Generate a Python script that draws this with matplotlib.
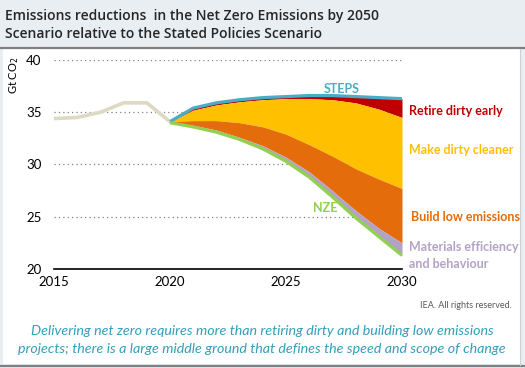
import matplotlib
matplotlib.use("Agg")
from matplotlib import pyplot as plt
from matplotlib.patches import Rectangle
from matplotlib.lines import Line2D

# --- data (Gt CO2) ---
hist_years = [2015, 2016, 2017, 2018, 2019, 2020]
hist_vals = [34.4, 34.5, 35.0, 35.9, 35.9, 34.1]

years = list(range(2020, 2031))
steps = [34.1, 35.4, 35.9, 36.2, 36.4, 36.5, 36.6, 36.6, 36.5, 36.4, 36.3]
after_retire = [34.1, 35.2, 35.7, 36.0, 36.2, 36.3, 36.3, 36.2, 35.9, 35.3, 34.5]
after_cleaner = [34.1, 34.2, 34.2, 34.0, 33.6, 32.9, 31.9, 30.8, 29.6, 28.6, 27.7]
after_build = [34.0, 33.75, 33.3, 32.6, 31.8, 30.7, 29.3, 27.5, 25.6, 23.9, 22.5]
nze = [34.0, 33.6, 33.1, 32.4, 31.5, 30.3, 28.8, 26.9, 24.9, 23.1, 21.3]

x_ticks = [2015, 2020, 2025, 2030]
y_ticks = [20, 25, 30, 35, 40]

title = ("Emissions reductions  in the Net Zero Emissions by 2050\n"
         "Scenario relative to the Stated Policies Scenario")
caption = ["Delivering net zero requires more than retiring dirty and building low emissions",
           "projects; there is a large middle ground that defines the speed and scope of change"]

# colours
BG = "#E9EEF2"
C_STEPS = "#4BACC6"
C_NZE = "#92D050"
C_RED = "#C00000"
C_YEL = "#FFC000"
C_ORA = "#E46C0A"
C_PUR = "#B3A2C7"
C_HIST = "#DDD9C3"
C_CAP = "#31A0B8"

W, H = 525, 368
plt.rcParams["font.family"] = ["Lato", "DejaVu Sans"]


def fx(x):
    return x / W


def fy(y):
    return 1 - y / H


fig = plt.figure(figsize=(W / 100, H / 100), dpi=100, facecolor=BG)

# white panel and grey rules
fig.add_artist(Rectangle((fx(3), fy(364)), fx(517), 315 / H, transform=fig.transFigure,
                         facecolor="white", edgecolor="none", zorder=0))
fig.add_artist(Line2D([0, 1], [fy(48), fy(48)], color="#808080", lw=1.6, transform=fig.transFigure))
fig.add_artist(Line2D([0, 1], [fy(365.5), fy(365.5)], color="#808080", lw=1.6, transform=fig.transFigure))
fig.add_artist(Line2D([fx(520), fx(520)], [fy(49), fy(365)], color="#D0D0D0", lw=0.8,
                      transform=fig.transFigure))

fig.text(fx(5), fy(25), title, ha="left", va="center", fontsize=10, fontweight="semibold",
         family=["Open Sans", "DejaVu Sans"], color="#262626", linespacing=1.45)

ax = fig.add_axes([fx(54), fy(269), (402 - 54) / W, (269 - 60) / H])
ax.set_facecolor("white")

ax.fill_between(years, after_retire, steps, color=C_RED, lw=0)
ax.fill_between(years, after_cleaner, after_retire, color=C_YEL, lw=0)
ax.fill_between(years, after_build, after_cleaner, color=C_ORA, lw=0)
ax.fill_between(years, nze, after_build, color=C_PUR, lw=0)
ax.plot(years, steps, color=C_STEPS, lw=2.3, solid_capstyle="butt", zorder=4)
ax.plot(years, nze, color=C_NZE, lw=2.3, solid_capstyle="butt", zorder=4)
ax.plot(hist_years, hist_vals, color=C_HIST, lw=2.6, zorder=3)

ax.set_xlim(2015, 2030)
ax.set_ylim(20, 40)
ax.set_xticks(x_ticks)
ax.set_yticks(y_ticks)
ax.tick_params(length=0, labelsize=9.5, colors="#000000", pad=5)
ax.tick_params(axis="y", pad=9)
for s in ["top", "right", "left"]:
    ax.spines[s].set_visible(False)
ax.spines["bottom"].set_linewidth(1.2)
ax.spines["bottom"].set_color("black")
for yv in y_ticks[1:]:
    ax.axhline(yv, color="#808080", lw=0.9, ls=(0, (1, 2.5)), zorder=0)

fig.text(fx(14), fy(75), "Gt CO$_2$", rotation=90, ha="center", va="center", fontsize=8)

ax.text(2027.4, 37.2, "STEPS", color=C_STEPS, fontsize=9, fontweight="bold", ha="center", va="center")
ax.text(2026.7, 25.8, "NZE", color=C_NZE, fontsize=9, fontweight="bold", ha="center", va="center")

fig.text(fx(409), fy(111), "Retire dirty early", color=C_RED, fontsize=9, fontweight="bold", va="center")
fig.text(fx(409), fy(150), "Make dirty cleaner", color=C_YEL, fontsize=9, fontweight="bold", va="center")
fig.text(fx(411), fy(217), "Build low emissions", color=C_ORA, fontsize=9, fontweight="bold", va="center")
fig.text(fx(409), fy(255.5), "Materials efficiency\nand behaviour", color=C_PUR, fontsize=9,
         fontweight="bold", va="center", linespacing=1.45)

fig.text(fx(512), fy(305), "IEA. All rights reserved.", color="#595959", fontsize=6.5, ha="right", va="center")

fig.text(fx(262), fy(331), caption[0], color=C_CAP, fontsize=10.3, style="italic", ha="center", va="center")
fig.text(fx(262), fy(349), caption[1], color=C_CAP, fontsize=10.3, style="italic", ha="center", va="center")

fig.savefig("out.png", dpi=100, facecolor=BG)
